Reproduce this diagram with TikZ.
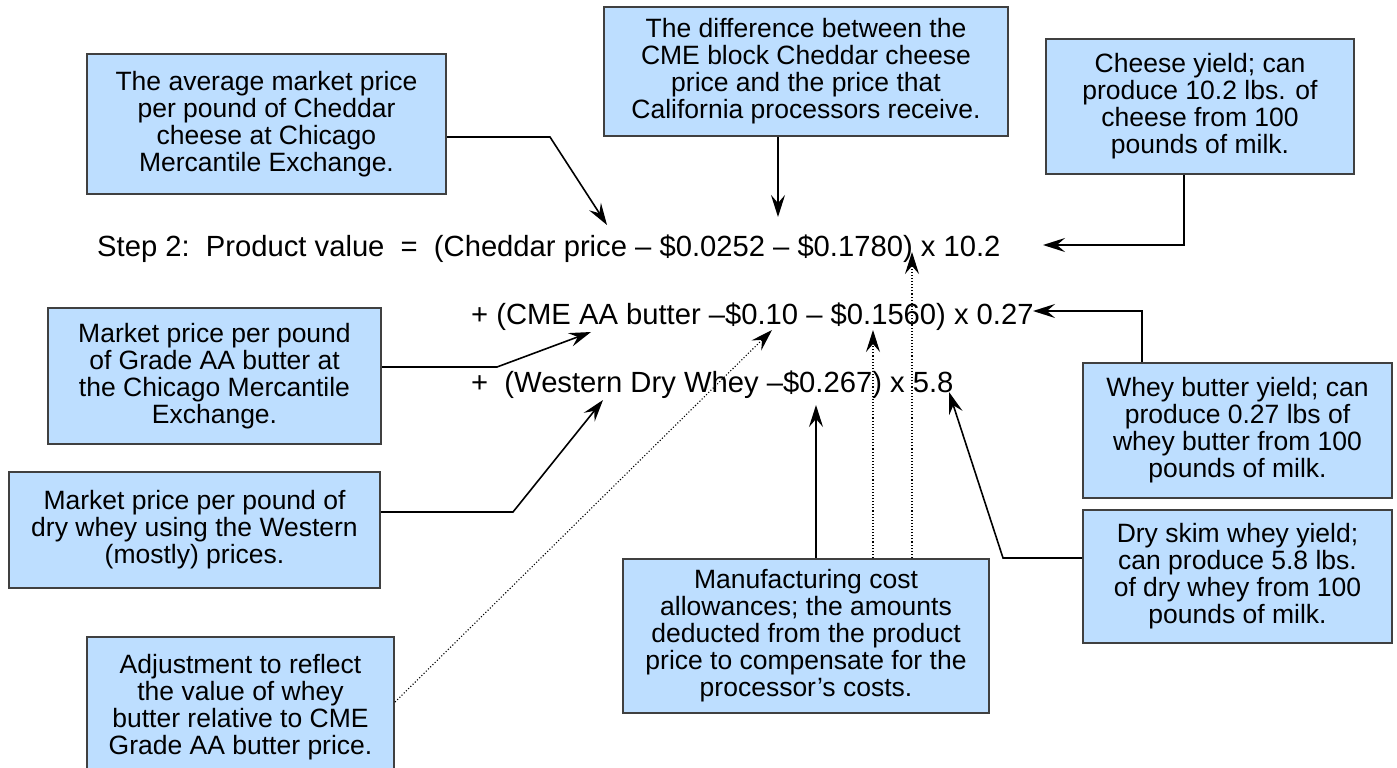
\documentclass[tikz,border=0pt]{standalone}
\usepackage{fontspec}
\setmainfont{Liberation Sans}
\usetikzlibrary{arrows.meta,calc}
\definecolor{boxfill}{RGB}{189,222,255}
\definecolor{boxline}{RGB}{64,64,64}
\begin{document}
\begin{tikzpicture}[x=1pt,y=-1pt,
  infobox/.style={draw=boxline, line width=2pt, fill=boxfill, align=center, inner sep=0pt,
    font=\fontsize{26.5}{27}\selectfont},
  eqtext/.style={anchor=base west, inner sep=0pt, font=\fontsize{29.2}{32}\selectfont\frenchspacing},
  conn/.style={line width=1.6pt, -{Stealth[length=22pt,width=14pt,inset=8pt]}},
  dotconn/.style={line width=1.1pt, dotted, -{Stealth[length=22pt,width=14pt,inset=8pt]}}]
\useasboundingbox (0,0) rectangle (1397,768);

% equation
\node[eqtext] (eq1) at (97,256) {Step 2:~ Product value~ =~ (Cheddar price – \$0.0252 – \$0.1780) x 10.2};
\node[eqtext] (eq2) at (471,324) {+ (CME AA butter –\$0.10 – \$0.1560) x 0.27};
\node[eqtext] (eq3) at (471,392) {+~ (Western Dry Whey –\$0.267) x 5.8};

% boxes
\node[infobox, minimum width=359pt, minimum height=140pt] (A) at (266.5,124)
  {The average market price\\per pound of Cheddar\\cheese at Chicago\\Mercantile Exchange.};
\node[infobox, minimum width=404pt, minimum height=129pt] (B) at (806,71.5)
  {The difference between the\\CME block Cheddar cheese\\price and the price that\\California processors receive.};
\node[infobox, minimum width=308pt, minimum height=135pt] (C) at (1200,106.5)
  {Cheese yield; can\\produce 10.2 lbs. of\\cheese from 100\\pounds of milk.};
\node[infobox, minimum width=333pt, minimum height=136pt] (D) at (214.5,376)
  {Market price per pound\\of Grade AA butter at\\the Chicago Mercantile\\Exchange.};
\node[infobox, minimum width=371pt, minimum height=116pt] (E) at (194.5,530)
  {Market price per pound of\\dry whey using the Western\\(mostly) prices.};
\node[infobox, minimum width=307pt, minimum height=140pt] (F) at (240.5,707)
  {Adjustment to reflect\\the value of whey\\butter relative to CME\\Grade AA butter price.};
\node[infobox, minimum width=366pt, minimum height=154pt] (G) at (806,636)
  {Manufacturing cost\\allowances; the amounts\\deducted from the product\\price to compensate for the\\processor’s costs.};
\node[infobox, minimum width=309pt, minimum height=135pt] (H) at (1237.5,430.5)
  {Whey butter yield; can\\produce 0.27 lbs of\\whey butter from 100\\pounds of milk.};
\node[infobox, minimum width=309pt, minimum height=133pt] (I) at (1237.5,576.5)
  {Dry skim whey yield;\\can produce 5.8 lbs.\\of dry whey from 100\\pounds of milk.};

% arrow targets
\coordinate (tA) at (607,225);
\coordinate (tB) at (778,217);
\coordinate (tC) at (1043,245);
\coordinate (tD) at (591,332);
\coordinate (tE) at (603,400);
\coordinate (tF) at (772,330);
\coordinate (tG1) at (816,405);
\coordinate (tG2) at (873,330);
\coordinate (tG3) at (912,252);
\coordinate (tH) at (1033,311);
\coordinate (tI) at (949,392);

% connectors
\draw[conn] ([yshift=-13pt]A.east) -- (550,137) -- (tA);
\draw[conn] ([xshift=-28pt]B.south) -- (tB);
\draw[conn] ([xshift=-16pt]C.south) |- (tC);
\draw[conn] ([yshift=9pt]D.east) -- (497,367) -- (tD);
\draw[conn] ([yshift=18pt]E.east) -- (513,512) -- (tE);
\draw[dotconn] ([yshift=5pt]F.east) -- (tF);
\draw[conn] ([xshift=10pt]G.north) -- (tG1);
\draw[dotconn] ([xshift=67pt]G.north) -- (tG2);
\draw[dotconn] ([xshift=106pt]G.north) -- (tG3);
\draw[conn] ([xshift=-95.5pt]H.north) |- (tH);
\draw[conn] ([yshift=18.5pt]I.west) -- (1003,558) -- (tI);
\end{tikzpicture}
\end{document}
